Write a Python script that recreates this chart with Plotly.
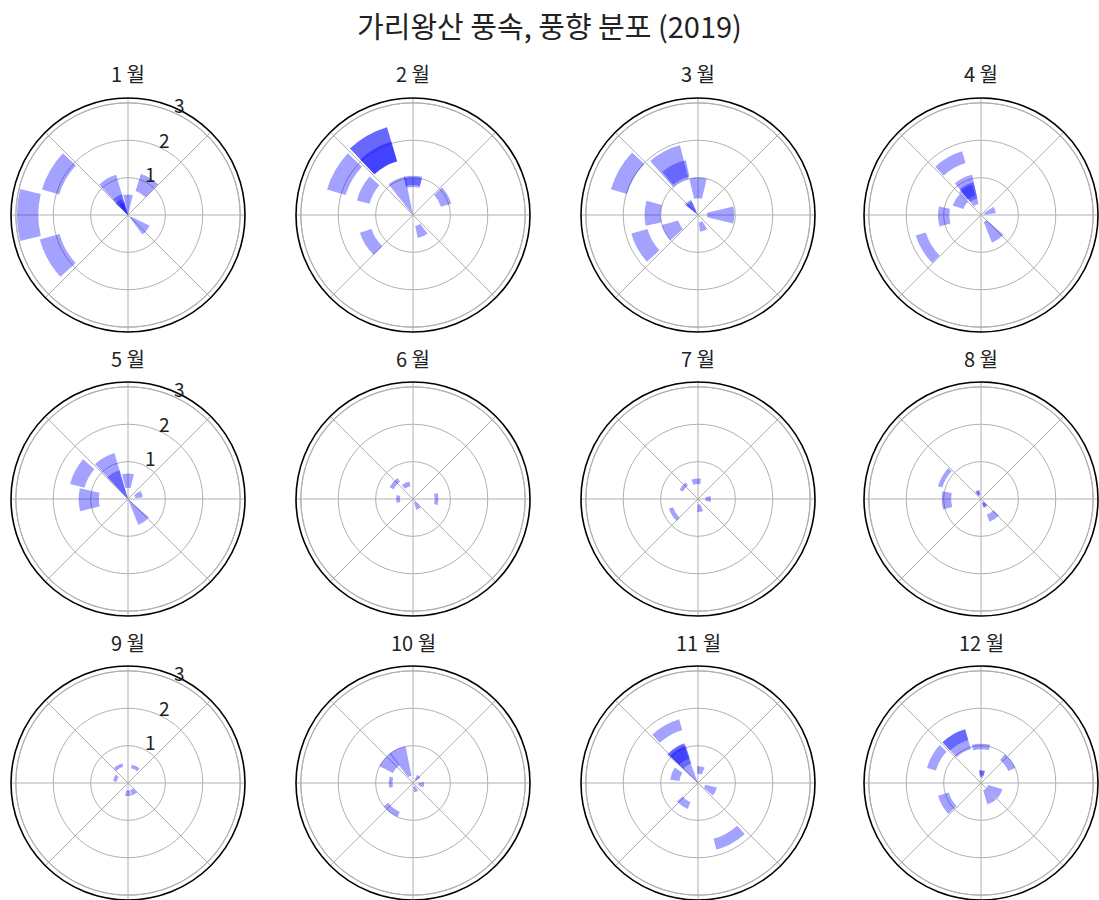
import math
import plotly.graph_objects as go

# Wind observations per month: (direction in degrees, speed from, speed to) in m/s.
# Repeated entries stack and show up darker.
wind_jan = [(180, 2.40, 2.97), (150, 1.92, 2.40), (209, 1.90, 2.45),
            (120, 0.00, 1.12), (120, 0.00, 0.58), (125, 0.00, 0.45), (118, 0.00, 0.35),
            (90, 0.00, 0.55), (59, 0.67, 1.15), (320, 0.10, 0.65)]
wind_feb = [(150, 1.88, 2.40), (120, 1.50, 2.45), (120, 1.50, 2.45), (120, 1.50, 2.05),
            (152, 1.20, 1.55), (115, 0.00, 1.05), (90, 0.75, 1.05), (90, 0.80, 1.00),
            (30, 0.78, 1.07), (212, 1.17, 1.50), (295, 0.30, 0.63)]
wind_mar = [(150, 1.98, 2.43), (118, 1.00, 1.93), (116, 1.05, 1.50), (90, 0.45, 1.00),
            (128, 0.00, 0.45), (128, 0.10, 0.40), (0, 0.25, 0.97), (290, 0.20, 0.45),
            (178, 1.00, 1.43), (209, 0.55, 1.00), (209, 1.40, 1.85)]
wind_apr = [(120, 1.45, 1.78), (116, 0.30, 1.10), (116, 0.45, 0.90), (120, 0.55, 0.85),
            (148, 0.50, 0.80), (182, 0.85, 1.15), (20, 0.10, 0.40), (305, 0.20, 0.80),
            (211, 1.55, 1.83)]
wind_may = [(152, 1.20, 1.60), (120, 0.00, 1.28), (120, 0.00, 0.80), (90, 0.30, 0.68),
            (181, 0.78, 1.32), (305, 0.00, 0.75), (20, 0.20, 0.40)]
wind_jun = [(140, 0.58, 0.70), (115, 0.35, 0.48), (180, 0.35, 0.45), (0, 0.58, 0.68),
            (300, 0.10, 0.30)]
wind_jul = [(140, 0.45, 0.55), (95, 0.40, 0.55), (0, 0.20, 0.35), (280, 0.15, 0.35),
            (212, 0.70, 0.82)]
wind_aug = [(150, 1.08, 1.20), (182, 0.80, 1.05), (115, 0.10, 0.25), (115, 0.12, 0.22),
            (300, 0.10, 0.25), (300, 0.12, 0.22), (304, 0.45, 0.65)]
wind_sep = [(120, 0.45, 0.55), (65, 0.40, 0.50), (270, 0.20, 0.35), (300, 0.20, 0.35),
            (160, 0.30, 0.40)]
wind_oct = [(115, 0.20, 1.00), (140, 0.60, 1.00), (178, 0.55, 0.65), (50, 0.10, 0.25),
            (350, 0.15, 0.30), (290, 0.10, 0.25), (232, 0.85, 1.00)]
wind_nov = [(120, 1.48, 1.78), (124, 0.00, 1.12), (122, 0.55, 1.12), (122, 0.70, 1.05),
            (160, 0.50, 0.75), (80, 0.25, 0.45), (333, 0.20, 0.52), (235, 0.55, 0.75),
            (299, 1.55, 1.85)]
wind_dec = [(120, 0.95, 1.50), (120, 1.20, 1.50), (151, 1.25, 1.50), (90, 0.90, 1.05),
            (37, 0.80, 1.00), (85, 0.15, 0.35), (85, 0.20, 0.32), (330, 0.20, 0.60),
            (300, 0.20, 0.60), (210, 0.90, 1.20)]

monthly_wind = [wind_jan, wind_feb, wind_mar, wind_apr, wind_may, wind_jun,
                wind_jul, wind_aug, wind_sep, wind_oct, wind_nov, wind_dec]
month_labels = [f"{m} 월" for m in range(1, 13)]
radial_ticks = [1, 2, 3]

W, H = 1099, 900
col_cx = [128, 413, 698, 981]
row_cy = [215, 499, 783]
RAD = 117          # pixel radius of each polar panel
R_MAX = 3.13
BAR_WIDTH = 27     # degrees
LABEL_ANGLE = 67.5

FONT = "Noto Sans CJK KR"
GRID = "#b0b0b0"
TEXT = "#222222"

PX_PER_UNIT = RAD / R_MAX
LAB_OUT, LAB_SIDE = 9.5, 5.0   # label offset from the spoke, in px
ca, sa = math.cos(math.radians(LABEL_ANGLE)), math.sin(math.radians(LABEL_ANGLE))

fig = go.Figure()
layout_polars = {}
annotations = []
ring_theta = [t * 2 for t in range(181)]

for i, obs in enumerate(monthly_wind):
    row, col = divmod(i, 4)
    cx, cy = col_cx[col], row_cy[row]
    key = "polar" if i == 0 else f"polar{i + 1}"

    # outermost grid ring (sits just inside the spine)
    fig.add_trace(go.Scatterpolar(
        r=[radial_ticks[-1]] * len(ring_theta), theta=ring_theta,
        mode="lines", line=dict(color=GRID, width=1.1),
        subplot=key, showlegend=False, hoverinfo="skip",
    ))

    fig.add_trace(go.Barpolar(
        theta=[o[0] for o in obs],
        base=[o[1] for o in obs],
        r=[o[2] - o[1] for o in obs],
        width=[BAR_WIDTH] * len(obs),
        marker=dict(color="rgb(0,0,255)", opacity=0.36,
                    line=dict(width=0, color="rgba(0,0,0,0)")),
        subplot=key,
        showlegend=False,
        hoverinfo="skip",
    ))

    x0 = max(0.0, (cx - RAD) / W)
    x1 = min(1.0, (cx + RAD) / W)
    layout_polars[key] = dict(
        domain=dict(x=[x0, x1],
                    y=[1 - (cy + RAD) / H, 1 - (cy - RAD) / H]),
        bgcolor="white",
        barmode="overlay",
        angularaxis=dict(
            rotation=0, direction="counterclockwise",
            tickmode="array", tickvals=list(range(0, 360, 45)),
            showticklabels=False, ticks="",
            showgrid=True, gridcolor=GRID, gridwidth=1.1,
            showline=True, linecolor="black", linewidth=1.6,
        ),
        radialaxis=dict(
            range=[0, R_MAX], tickmode="array", tickvals=radial_ticks,
            showticklabels=False, ticks="",
            showgrid=True, gridcolor=GRID, gridwidth=1.1,
            showline=False, angle=LABEL_ANGLE,
        ),
    )

    # radial tick labels on the first column, just outside each ring along the spoke
    if col == 0:
        for t in radial_ticks:
            d = t * PX_PER_UNIT + LAB_OUT
            px = cx + d * ca + LAB_SIDE * sa
            py = cy - d * sa + LAB_SIDE * ca
            annotations.append(dict(
                text=str(t), x=px / W, y=1 - py / H,
                xref="paper", yref="paper", xanchor="center", yanchor="middle",
                showarrow=False, font=dict(family=FONT, size=19, color=TEXT),
            ))

    annotations.append(dict(
        text=month_labels[i], x=cx / W, y=1 - (cy - RAD - 24) / H,
        xref="paper", yref="paper", xanchor="center", yanchor="middle",
        showarrow=False, font=dict(family=FONT, size=20, color=TEXT),
    ))

fig.update_layout(
    width=W, height=H,
    margin=dict(l=0, r=0, t=0, b=0),
    paper_bgcolor="white",
    title=dict(text="가리왕산 풍속, 풍향 분포 (2019)", x=0.5, xanchor="center",
               y=1 - 28 / H, yanchor="middle", yref="container",
               font=dict(family=FONT, size=29, color=TEXT)),
    annotations=annotations,
    **layout_polars,
)

fig.write_html("out.html")
